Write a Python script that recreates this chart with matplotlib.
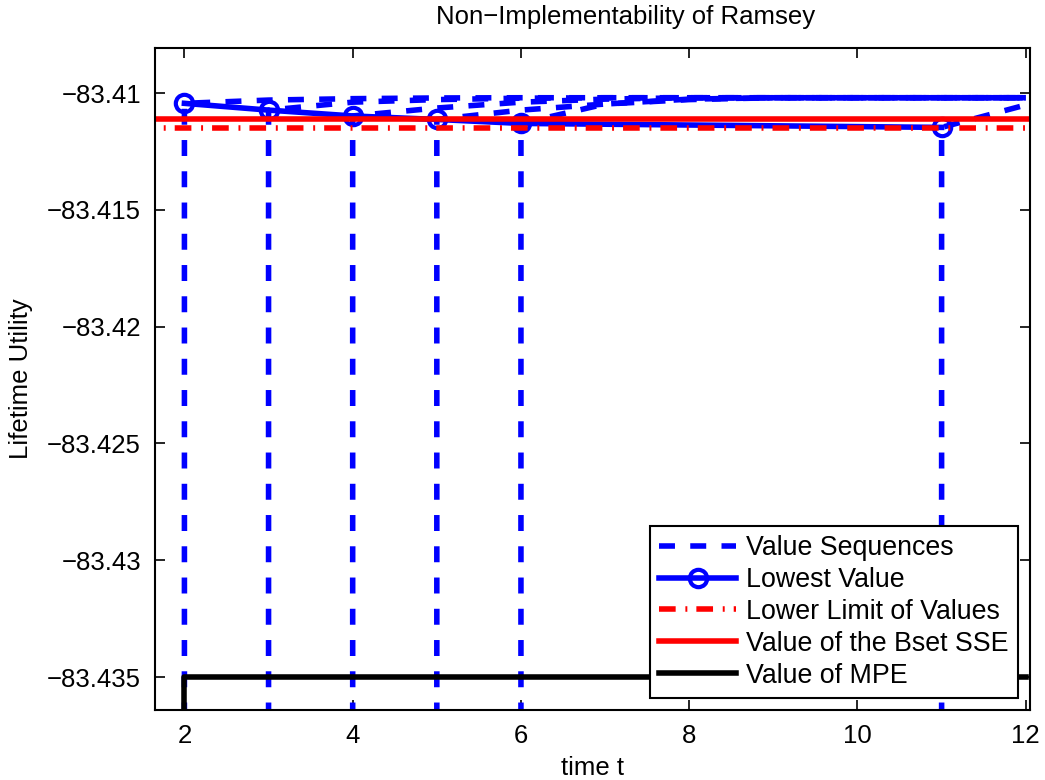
import numpy as np
import matplotlib
matplotlib.use("Agg")
import matplotlib.pyplot as plt

plt.rcParams['font.family'] = ['Liberation Sans', 'DejaVu Sans']
plt.rcParams['lines.scale_dashes'] = False

# Data
floor = -83.45  # value before a sequence starts (below the axes)
seq_starts = [2, 3, 4, 5, 6, 11]
seq_values = [
    [-83.41044, -83.41030, -83.41024, -83.41021, -83.41020, -83.41020, -83.41020, -83.41020, -83.41020, -83.41020, -83.41020],
    [-83.41073, -83.41039, -83.41028, -83.41022, -83.41020, -83.41020, -83.41020, -83.41020, -83.41020, -83.41020],
    [-83.41098, -83.41064, -83.41039, -83.41026, -83.41020, -83.41020, -83.41020, -83.41020, -83.41020],
    [-83.41113, -83.41073, -83.41047, -83.41028, -83.41020, -83.41020, -83.41020, -83.41020],
    [-83.41130, -83.41047, -83.41026, -83.41020, -83.41020, -83.41020, -83.41020],
    [-83.41147, -83.41051],
]
lowest_t = [2, 3, 4, 5, 6, 11]
lowest_v = [-83.41044, -83.41073, -83.41098, -83.41113, -83.41130, -83.41147]
lower_limit = -83.41150
bset_sse = -83.41111
mpe_t = [2, 2, 12]
mpe_v = [floor, -83.43499, -83.43499]

fig = plt.figure(figsize=(10.45, 7.8), dpi=100)
ax = fig.add_axes([0.1483, 0.0897, 0.8373, 0.8488])

blue = (0, 0, 1)
red = (1, 0, 0)
lw = 4.0

for k, vals in zip(seq_starts, seq_values):
    t = [k] + list(range(k, k + len(vals)))
    y = [floor] + vals
    h_seq, = ax.plot(t, y, color=blue, linewidth=lw, dashes=(11.5, 11),
                     label='Value Sequences')

h_low, = ax.plot(lowest_t, lowest_v, color=blue, linewidth=lw, marker='o',
                 markersize=12.5, markerfacecolor='none', markeredgewidth=3,
                 label='Lowest Value')
h_lim, = ax.plot([1, 13], [lower_limit, lower_limit], color=red, linewidth=lw,
                 dashes=(12, 7, 1.4, 6.5), label='Lower Limit of Values')
h_sse, = ax.plot([1, 13], [bset_sse, bset_sse], color=red, linewidth=lw,
                 label='Value of the Bset SSE')
h_mpe, = ax.plot(mpe_t, mpe_v, color='black', linewidth=lw,
                 label='Value of MPE')

ax.set_xlim(1.65, 12.05)
ax.set_ylim(-83.43641, -83.40807)
ax.set_xticks([2, 4, 6, 8, 10, 12])
ax.set_yticks([-83.435, -83.43, -83.425, -83.42, -83.415, -83.41])
ax.set_yticklabels(['\u221283.435', '\u221283.43', '\u221283.425',
                    '\u221283.42', '\u221283.415', '\u221283.41'])

ax.tick_params(direction='in', length=7, width=1.2, labelsize=18.5,
               top=True, right=True, pad=10)
for s in ax.spines.values():
    s.set_linewidth(1.5)

ax.set_xlabel('time t', fontsize=18.5, labelpad=6)
ax.set_ylabel('Lifetime Utility', fontsize=18.5, labelpad=10)
ax.set_title('Non\u2212Implementability of Ramsey', fontsize=18.5, pad=17, x=0.538)

leg = ax.legend(handles=[h_seq, h_low, h_lim, h_sse, h_mpe], loc='lower right',
                fontsize=19.3, frameon=True, fancybox=False, edgecolor='black',
                framealpha=1, handlelength=2.85, handletextpad=0.38,
                borderpad=0.35, labelspacing=0.22, borderaxespad=0.45)
leg.get_frame().set_linewidth(1.5)

fig.savefig('out.png', dpi=100)
